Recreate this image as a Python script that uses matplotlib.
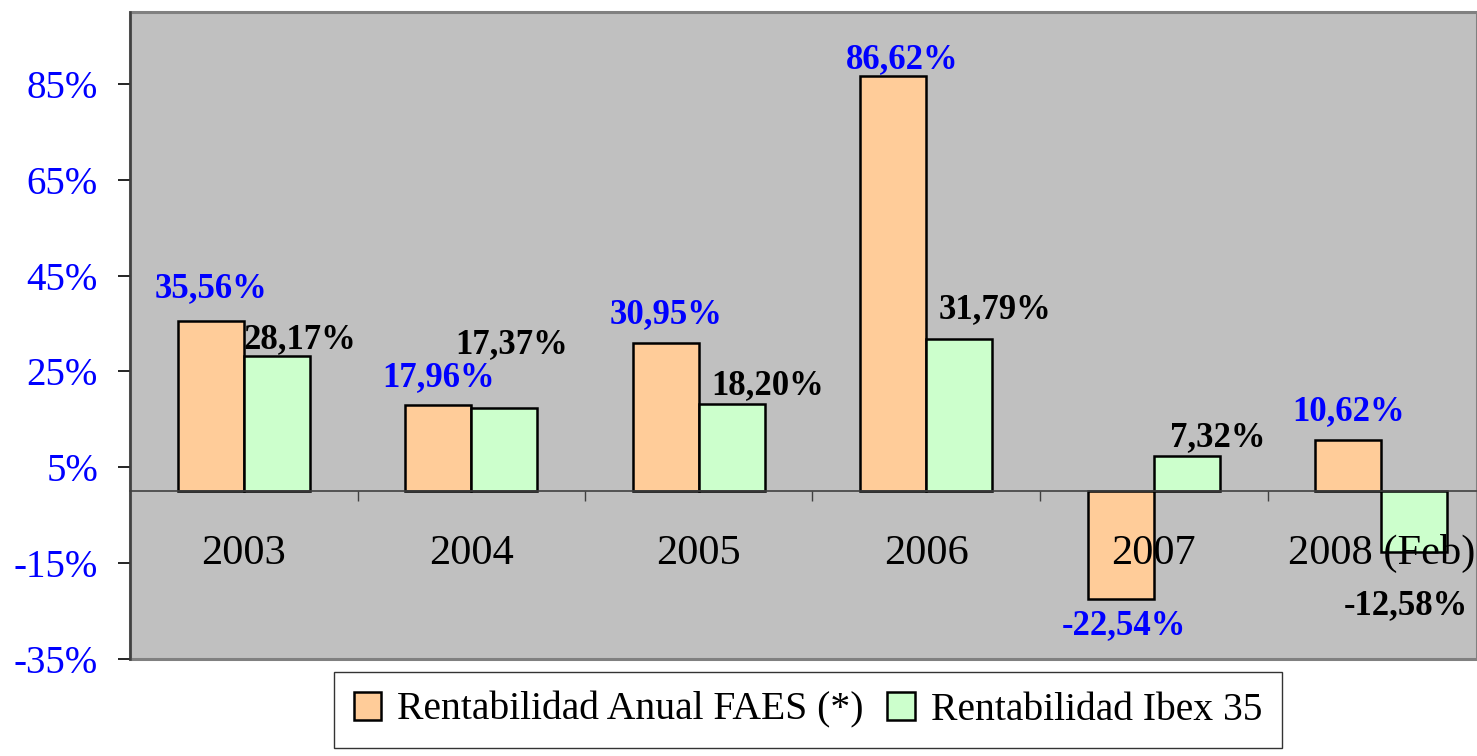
import numpy as np
import matplotlib.pyplot as plt
from matplotlib.patches import Rectangle

# --------------------------------
# DATA
# --------------------------------
years = ["2003", "2004", "2005", "2006", "2007", "2008 (Feb)"]
faes = [35.56, 17.96, 30.95, 86.62, -22.54, 10.62]
ibex = [28.17, 17.37, 18.20, 31.79, 7.32, -12.58]
faes_labels = ["35,56%", "17,96%", "30,95%", "86,62%", "-22,54%", "10,62%"]
ibex_labels = ["28,17%", "17,37%", "18,20%", "31,79%", "7,32%", "-12,58%"]
yticks = [-35, -15, 5, 25, 45, 65, 85]

# label offsets (pixels) from the bar end, as in the original
faes_off = [(0, 32), (0, 28), (0, 28), (9, 17), (3, -26), (0, 29)]
ibex_off = [(23, 17), (7, 63), (36, 18), (36, 29), (31, 19), (-8, -54)]

FONT = "Liberation Serif"
plt.rcParams['font.family'] = FONT

# --------------------------------
# PLOT
# --------------------------------
fig = plt.figure(figsize=(14.77, 7.56), dpi=100)
ax = fig.add_axes([130 / 1477, 97 / 756, 1347 / 1477, 647 / 756])
ax.set_facecolor("#C0C0C0")

x = np.arange(len(years))
w = 0.29
b1 = ax.bar(x - w / 2, faes, w, color="#FFCC99", edgecolor="black", linewidth=1.8,
            label="Rentabilidad Anual FAES (*)", zorder=3)
b2 = ax.bar(x + w / 2, ibex, w, color="#CCFFCC", edgecolor="black", linewidth=1.8,
            label="Rentabilidad Ibex 35", zorder=3)

for i in range(len(years)):
    ax.annotate(faes_labels[i], (x[i] - w / 2, faes[i]), xytext=faes_off[i],
                textcoords="offset pixels", ha="center", va="center",
                color="blue", fontsize=25, fontweight="bold", zorder=5)
    ax.annotate(ibex_labels[i], (x[i] + w / 2, ibex[i]), xytext=ibex_off[i],
                textcoords="offset pixels", ha="center", va="center",
                color="black", fontsize=25, fontweight="bold", zorder=5)

ax.set_yticks(yticks)
ax.set_yticklabels([f"{v}%" for v in yticks], color="blue", fontsize=28)
ax.tick_params(axis="y", length=9, width=1.2, pad=14, color="black")

# x axis on the zero line
ax.spines["bottom"].set_position(("data", 0))
ax.spines["bottom"].set_color("#404040")
ax.spines["bottom"].set_linewidth(1.2)
ax.spines["bottom"].set_zorder(4)
ax.set_xticks(x)
ax.set_xticklabels(years, fontsize=30.5)
ax.tick_params(axis="x", which="major", length=0, pad=31)
ax.set_xticks(np.arange(len(years)) + 0.5, minor=True)
ax.tick_params(axis="x", which="minor", length=7, width=1.0, direction="out", color="#404040")
ax.xaxis.set_zorder(6)

ax.set_ylim(-35, 100)
ax.set_xlim(-0.5, -0.5 + 1347 / 227.5)

ax.spines["left"].set_color("#404040")
ax.spines["left"].set_linewidth(1.8)
ax.spines["top"].set_visible(False)
ax.spines["right"].set_visible(False)
ax.add_patch(Rectangle((0, 0), 1, 1, transform=ax.transAxes, fill=False,
                       edgecolor="#808080", linewidth=2.2, clip_on=False, zorder=1))

leg = fig.legend(handles=[b1, b2], loc="center", bbox_to_anchor=(808 / 1477, 46 / 756),
                 ncol=2, fontsize=28.5, frameon=True, fancybox=False, handlelength=0.7,
                 handleheight=0.7, handletextpad=0.4, columnspacing=0.6,
                 borderpad=0.5, edgecolor="black")
leg.get_frame().set_linewidth(1.0)

fig.savefig("out.png", dpi=100)
